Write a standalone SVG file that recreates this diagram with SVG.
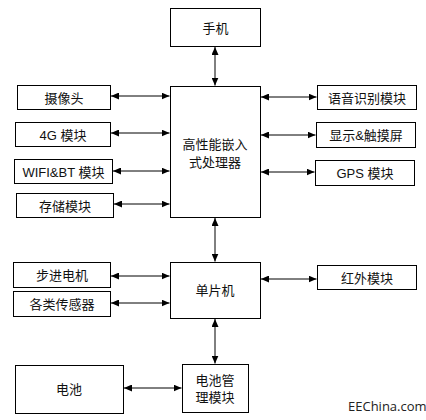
<svg xmlns="http://www.w3.org/2000/svg" width="426" height="420" viewBox="0 0 426 420">
<style>
.b{fill:#fff;stroke:#000;stroke-width:1}
.t{font-family:"Liberation Sans","Noto Sans CJK SC",sans-serif;font-size:13px;fill:#111;text-anchor:middle;dominant-baseline:central}
.c line{stroke:#000;stroke-width:1;marker-start:url(#ah);marker-end:url(#ah)}
</style>
<defs>
<marker id="ah" markerUnits="userSpaceOnUse" markerWidth="8" markerHeight="7" refX="8" refY="3.5" orient="auto-start-reverse"><path d="M0,0 L8,3.5 L0,7 z" fill="#000"/></marker>
</defs>
<rect width="426" height="420" fill="#fff"/>
<g class="c">
<line x1="215" y1="47" x2="215" y2="85.5"/>
<line x1="111" y1="96" x2="169.5" y2="96"/>
<line x1="111" y1="133" x2="169.5" y2="133"/>
<line x1="113" y1="171" x2="169.5" y2="171"/>
<line x1="114" y1="204" x2="169.5" y2="204"/>
<line x1="261" y1="97" x2="316.5" y2="97"/>
<line x1="261" y1="135" x2="315.5" y2="135"/>
<line x1="261" y1="172" x2="314.5" y2="172"/>
<line x1="215" y1="218" x2="215" y2="261.5"/>
<line x1="111" y1="276" x2="169.5" y2="276"/>
<line x1="111" y1="303" x2="169.5" y2="303"/>
<line x1="261" y1="279" x2="316.5" y2="279"/>
<line x1="215" y1="319" x2="215" y2="363.5"/>
<line x1="124" y1="388" x2="181.5" y2="388"/>
</g>
<g id="phone"><rect class="b" x="170.5" y="8.5" width="90" height="38"/><text class="t" x="215.5" y="28">手机</text></g>
<g id="cpu"><rect class="b" x="170.5" y="86.5" width="90" height="131"/><text class="t" x="215" y="144">高性能嵌入</text><text class="t" x="215" y="162">式处理器</text></g>
<g id="camera"><rect class="b" x="17.5" y="85.5" width="93" height="24"/><text class="t" x="64" y="98">摄像头</text></g>
<g id="g4"><rect class="b" x="15.5" y="122.5" width="95" height="24"/><text class="t" x="63" y="135">4G 模块</text></g>
<g id="wifi"><rect class="b" x="14.5" y="159.5" width="98" height="24"/><text class="t" x="63.5" y="172">WIFI&amp;BT 模块</text></g>
<g id="storage"><rect class="b" x="16.5" y="193.5" width="97" height="24"/><text class="t" x="65" y="206">存储模块</text></g>
<g id="voice"><rect class="b" x="317.5" y="85.5" width="99" height="24"/><text class="t" x="367" y="98">语音识别模块</text></g>
<g id="display"><rect class="b" x="316.5" y="122.5" width="99" height="25"/><text class="t" x="366" y="135">显示&amp;触摸屏</text></g>
<g id="gps"><rect class="b" x="315.5" y="160.5" width="99" height="25"/><text class="t" x="365" y="173">GPS 模块</text></g>
<g id="mcu"><rect class="b" x="170.5" y="262.5" width="90" height="56"/><text class="t" x="215" y="290">单片机</text></g>
<g id="motor"><rect class="b" x="13.5" y="262.5" width="97" height="25"/><text class="t" x="62" y="275">步进电机</text></g>
<g id="sensor"><rect class="b" x="13.5" y="291.5" width="97" height="25"/><text class="t" x="62" y="304">各类传感器</text></g>
<g id="ir"><rect class="b" x="317.5" y="265.5" width="99" height="24"/><text class="t" x="367" y="278">红外模块</text></g>
<g id="battery"><rect class="b" x="15.5" y="365.5" width="108" height="48"/><text class="t" x="69" y="389">电池</text></g>
<g id="bms"><rect class="b" x="182.5" y="364.5" width="66" height="48"/><text class="t" x="215" y="380">电池管</text><text class="t" x="215" y="397">理模块</text></g>
<text x="348" y="411" font-family="'Open Sans','Liberation Sans',sans-serif" font-size="13" fill="#222">EEChina.com</text>
</svg>
